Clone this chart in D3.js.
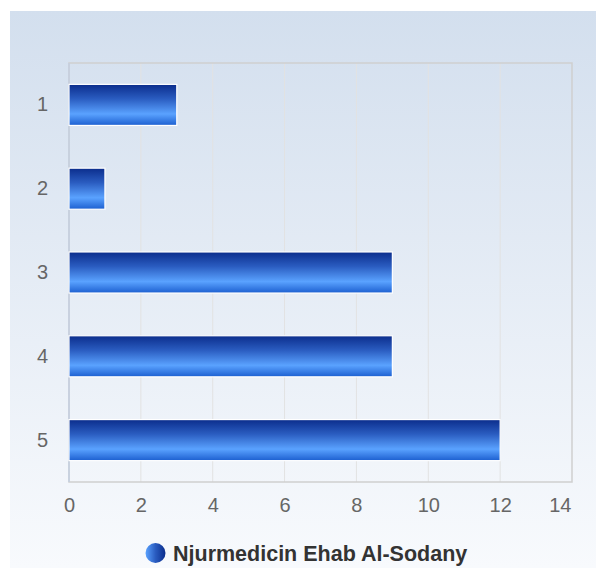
<!DOCTYPE html>
<html><head><meta charset="utf-8">
<script src="https://cdn.jsdelivr.net/npm/d3@7"></script>
<style>body{margin:0;background:#fff}svg{display:block;font-family:"Liberation Sans",Arial,sans-serif}</style>
</head><body><svg id="c" width="596" height="568"></svg>
<script>
const categories = ["1","2","3","4","5"];
const values = [3, 1, 9, 9, 12];
const xTicks = [0,2,4,6,8,10,12,14];
const seriesName = "Njurmedicin Ehab Al-Sodany";

const svg = d3.select("#c");
const defs = svg.append("defs");
const bg = defs.append("linearGradient").attr("id","bg").attr("x1",0).attr("y1",0).attr("x2",0).attr("y2",1);
bg.append("stop").attr("offset","0%").attr("stop-color","#d3dfee");
bg.append("stop").attr("offset","100%").attr("stop-color","#f8fafd");
const bar = defs.append("linearGradient").attr("id","bar").attr("x1",0).attr("y1",0).attr("x2",0).attr("y2",1);
[[0,"#0b2d8c"],[0.35,"#2a5cc0"],[0.72,"#5aa2ff"],[1,"#1c5fd0"]].forEach(([o,c])=>bar.append("stop").attr("offset",o).attr("stop-color",c));
const leg = defs.append("linearGradient").attr("id","leg").attr("x1",0).attr("y1",0).attr("x2",1).attr("y2",0);
[[0,"#5aa2ff"],[0.5,"#2a5cc0"],[1,"#0b2d8c"]].forEach(([o,c])=>leg.append("stop").attr("offset",o).attr("stop-color",c));

svg.append("rect").attr("x",10).attr("y",11).attr("width",586).attr("height",557).attr("fill","url(#bg)");

const L=69, R=572, T=63, B=482;
const x = d3.scaleLinear().domain([0,14]).range([L,R]);
const y = d3.scaleBand().domain(categories).range([T,B]).paddingInner(0.51).paddingOuter(0.255);

// grid
svg.append("g").selectAll("line").data(xTicks.slice(1,-1)).join("line")
  .attr("x1",d=>x(d)).attr("x2",d=>x(d)).attr("y1",T).attr("y2",B)
  .attr("stroke","#e2e2e2").attr("stroke-width",1);
svg.append("rect").attr("x",L).attr("y",T).attr("width",R-L).attr("height",B-T)
  .attr("fill","none").attr("stroke","#cfcfcf").attr("stroke-width",1.5);
svg.append("line").attr("x1",L).attr("x2",L).attr("y1",T).attr("y2",B).attr("stroke","#c5cfe0").attr("stroke-width",1.5);

// bars
svg.append("g").selectAll("rect").data(values).join("rect")
  .attr("x",x(0)).attr("y",(d,i)=>y(categories[i]))
  .attr("width",d=>x(d)-x(0)).attr("height",y.bandwidth())
  .attr("fill","url(#bar)").attr("stroke","#fff").attr("stroke-width",1.2);

// axes
const xAxis = svg.append("g").attr("transform",`translate(0,${B})`)
  .call(d3.axisBottom(x).tickValues(xTicks).tickSize(0).tickPadding(16));
xAxis.select(".domain").remove();
xAxis.selectAll("text").attr("fill","#666").style("font-size","20px").style("font-family","Liberation Sans, Arial, sans-serif")
  .filter(d=>d===xTicks[xTicks.length-1]).attr("text-anchor","end").attr("dx","-1");
const yAxis = svg.append("g").attr("transform",`translate(${L},0)`)
  .call(d3.axisLeft(y).tickSize(0).tickPadding(21));
yAxis.select(".domain").remove();
yAxis.selectAll("text").attr("fill","#666").style("font-size","20px").style("font-family","Liberation Sans, Arial, sans-serif");

// legend
const lg = svg.append("g");
lg.append("circle").attr("cx",155.5).attr("cy",553).attr("r",10).attr("fill","url(#leg)");
lg.append("text").attr("x",173).attr("y",560.5).style("font-size","21.5px").attr("font-weight","bold").attr("fill","#333").text(seriesName);
</script></body></html>
